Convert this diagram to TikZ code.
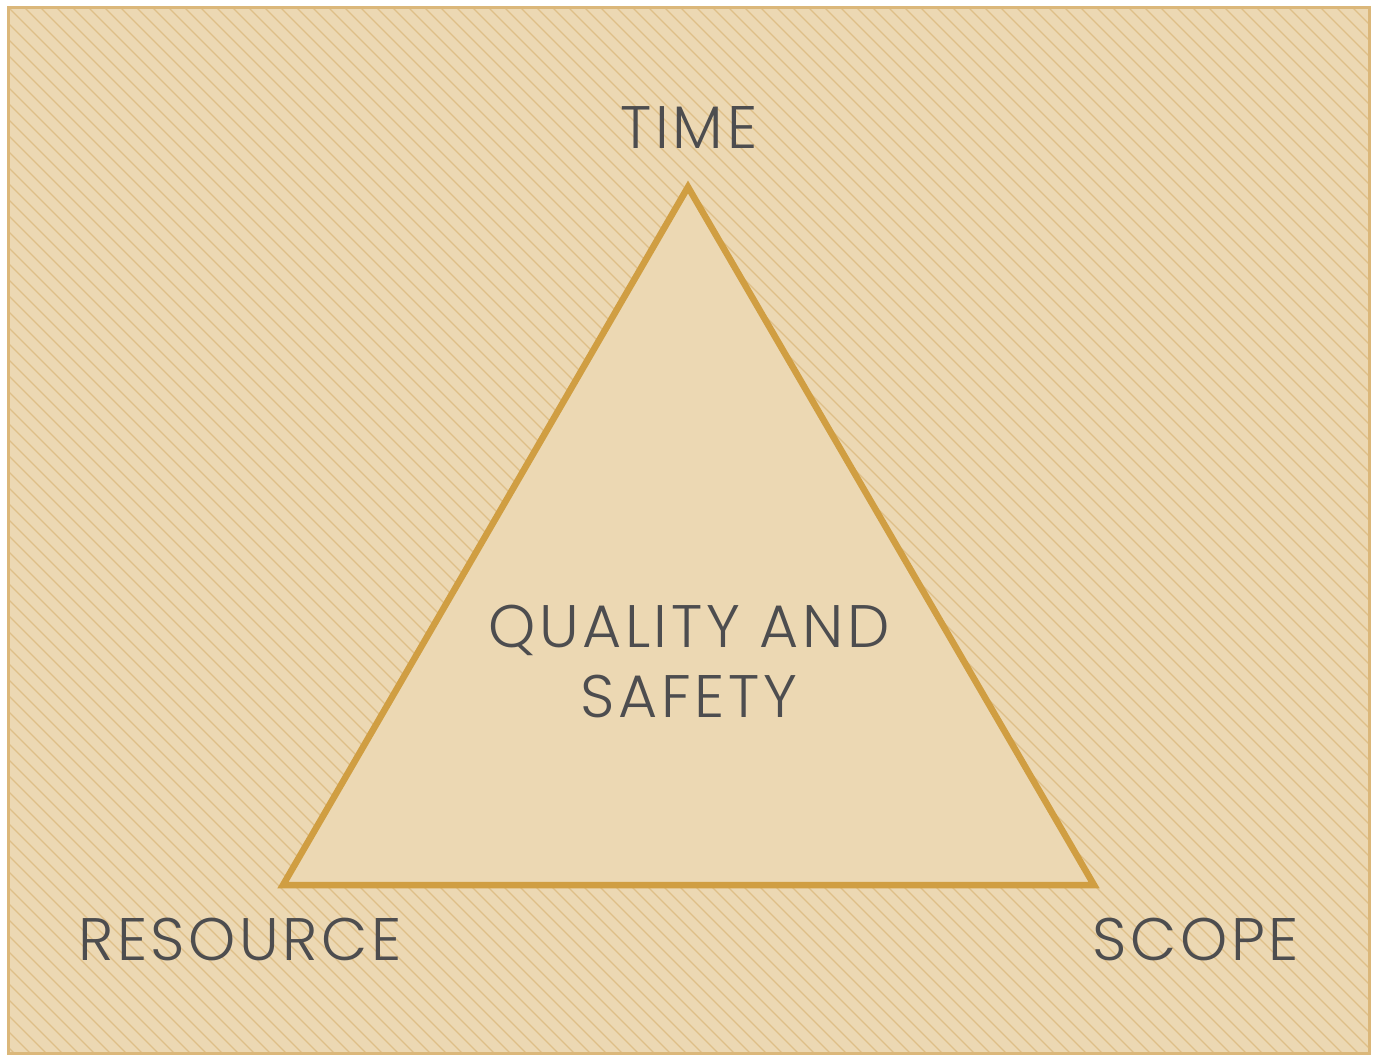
\documentclass[tikz,border=0pt]{standalone}
\usepackage{fontspec}
\setmainfont{Poppins}[UprightFont=* Light, LetterSpace=6]
\definecolor{bgfill}{HTML}{ECD8B3}
\definecolor{bgborder}{HTML}{DBB77A}
\definecolor{hatch}{HTML}{DEBF88}
\definecolor{tri}{HTML}{D09E42}
\definecolor{txt}{HTML}{4D4D4F}
\tikzset{
  lbl/.style={text=txt, font=\fontsize{60}{72}\selectfont, inner sep=0pt, align=center},
}
\begin{document}
\begin{tikzpicture}[x=1pt,y=-1pt]
\useasboundingbox (0,0) rectangle (1375,1055);
\fill[bgfill] (8,7) rectangle (1369,1053);
\begin{scope}
  \clip (8,7) rectangle (1369,1053);
  \foreach \i in {-70,...,90} {
    \draw[hatch, line width=1.1pt] ({\i*16+8},7) -- ({\i*16+8+1100},1107);
  }
\end{scope}
\draw[bgborder, line width=3pt] (8,7) rectangle (1369,1053);
\coordinate (A) at (688,187);
\coordinate (B) at (283,885);
\coordinate (C) at (1094,885);
\filldraw[fill=bgfill, draw=tri, line width=6.5pt, line join=miter] (A) -- (B) -- (C) -- cycle;
\node[lbl, anchor=base] (time) at (689,148) {TIME};
\node[lbl, anchor=base] (q) at (689,647) {QUALITY AND};
\node[lbl, anchor=base] (s) at (689,717) {SAFETY};
\node[lbl, anchor=base] (res) at (240,960) {RESOURCE};
\node[lbl, anchor=base] (sc) at (1196,960) {SCOPE};
\end{tikzpicture}
\end{document}
